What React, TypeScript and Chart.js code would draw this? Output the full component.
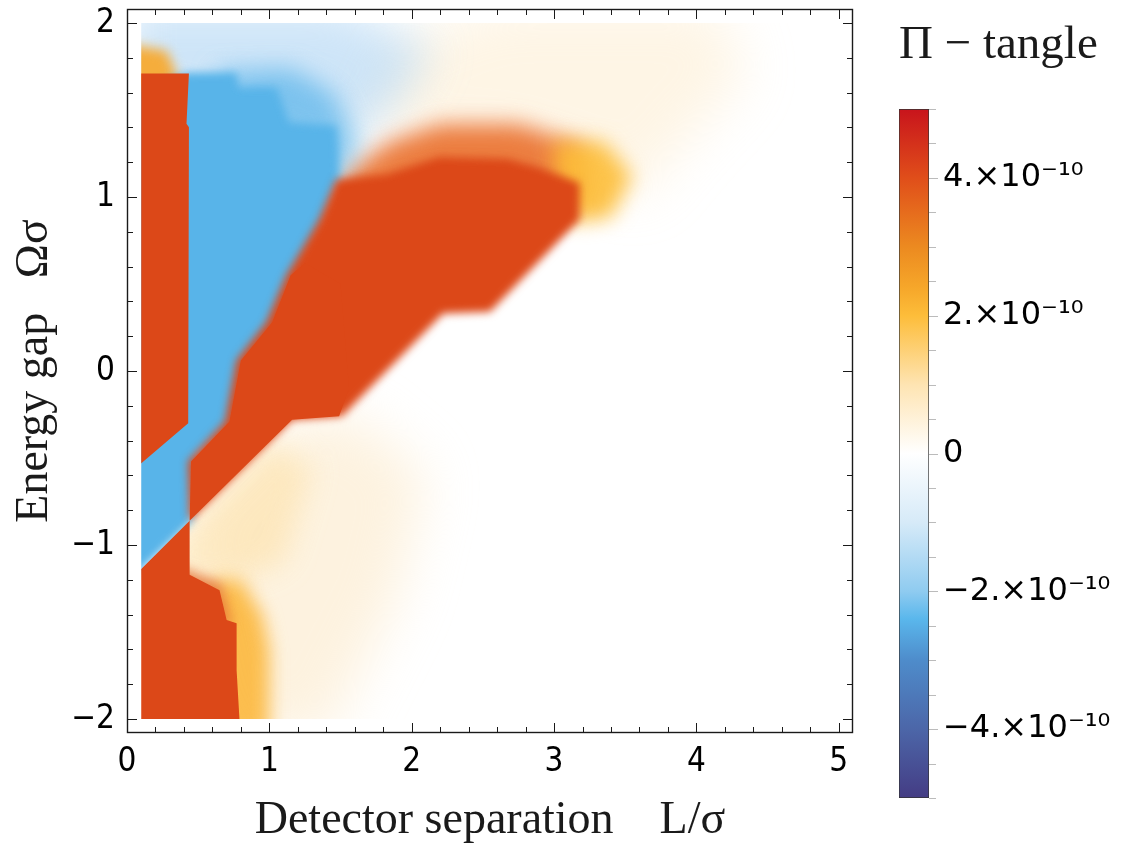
import React, { useEffect, useRef } from 'react';
import { Chart, registerables } from 'chart.js';

// ---------------- axes / ticks ----------------
const xTickValues = [0, 1, 2, 3, 4, 5];
const yTickValues = [-2, -1, 0, 1, 2];
const xAxisRange = [0, 5.1];
const yAxisRange = [-2.08, 2.08];
const minorStep = 0.2;
const dataDomainX = [0.1, 5.0];
const dataDomainY = [-2, 2];

const xTitle = 'Detector separation\u2003L/σ';
const yTitle = 'Energy gap\u2002 Ωσ';
const cbTitle = 'Π − tangle';

// ---------------- colour bar ----------------
const cbRange = [-5e-10, 5e-10];
const cbTickValues = [-4e-10, -2e-10, 0, 2e-10, 4e-10];
const cbMinorStep = 0.5e-10;
const cbStopValues = [-5e-10, -4e-10, -3e-10, -2.4e-10, -2e-10, -1e-10, 0, 1e-10, 2e-10, 2.4e-10, 3e-10, 4e-10, 5e-10];
const cbStopColors = ['#443c84', '#4c66a8', '#4e8ccb', '#5ab7ec', '#8fcbf0', '#d6eaf8', '#ffffff', '#fee4b2', '#fdbd3a', '#f6a72a', '#ec8a20', '#e04e1a', '#c8141c'];

// ---------------- regions (L/σ, Ωσ) ----------------
const hazeCreamX = [1.65, 1.95, 2.6, 4.15, 4.35, 3.9, 3.6, 3.2, 2.6, 2.1];
const hazeCreamY = [1.45, 1.9, 2.1, 2.1, 1.7, 1.3, 1.0, 1.15, 1.3, 1.3];

const hazeBlueTopX = [0.0, 1.5, 2.15, 1.9, 1.55, 0.0];
const hazeBlueTopY = [2.1, 2.1, 1.85, 1.55, 1.3, 1.6];

const hazeLowerX = [0.44, 1.15, 1.6, 2.1, 1.9, 1.4, 0.79];
const hazeLowerY = [-0.86, -0.28, -0.26, -0.6, -1.3, -2.1, -2.1];

const glowDiagX = [0.3, 0.44, 1.0, 1.3, 1.1, 0.6, 0.3];
const glowDiagY = [-1.0, -0.86, -0.4, -0.55, -1.1, -1.25, -1.2];

const glowLowerX = [0.6, 0.8, 0.95, 1.0, 1.0, 0.6];
const glowLowerY = [-1.2, -1.2, -1.4, -1.6, -2.1, -2.1];

const glowLowerPeachX = [0.3, 0.66, 0.74, 0.5, 0.3];
const glowLowerPeachY = [-1.1, -1.22, -1.47, -1.4, -1.3];

const glowTopLeftX = [0.0, 0.4, 0.28, 0.0];
const glowTopLeftY = [1.6, 1.6, 1.84, 1.88];

const glowRedTopX = [1.5, 1.85, 2.2, 2.75, 3.2, 3.25, 3.05, 2.67, 2.19, 1.82, 1.5];
const glowRedTopY = [1.12, 1.32, 1.42, 1.42, 1.3, 0.95, 1.0, 1.07, 1.08, 0.98, 0.95];

const glowRedTipX = [3.0, 3.35, 3.55, 3.4, 3.1, 3.0];
const glowRedTipY = [1.32, 1.32, 1.12, 0.88, 0.85, 1.1];

const blueFadeX = [0.6, 1.15, 1.45, 1.62, 1.5, 1.0];
const blueFadeY = [1.72, 1.74, 1.6, 1.3, 1.1, 1.3];

const blueMainX = [0.0, 0.0, 0.43, 0.77, 0.79, 1.05, 1.14, 1.47, 1.5, 1.4, 1.25, 1.17, 1.05, 0.85, 0.76, 0.5, 0.46];
const blueMainY = [-1.22, 1.6, 1.715, 1.715, 1.63, 1.63, 1.43, 1.41, 1.1, 0.85, 0.62, 0.5, 0.25, 0.05, -0.3, -0.5, -0.86];

const redLowerLeftX = [-0.05, 0.44, 0.44, 0.65, 0.7, 0.77, 0.77, 0.79, 0.79, -0.05];
const redLowerLeftY = [-1.26, -0.86, -1.17, -1.26, -1.43, -1.45, -1.72, -2.0, -2.15, -2.15];

const redStripX = [-0.05, 0.435, 0.418, 0.435, 0.43, -0.05];
const redStripY = [1.71, 1.71, 1.42, 1.4, -0.3, -0.635];

const redBandX = [0.44, 1.16, 1.51, 2.22, 2.55, 3.18, 3.18, 2.9, 2.67, 2.19, 1.82, 1.47, 1.35, 1.2, 1.12, 0.98, 0.77, 0.69, 0.43];
const redBandY = [-0.86, -0.28, -0.26, 0.33, 0.34, 0.87, 1.08, 1.17, 1.22, 1.23, 1.13, 1.1, 0.87, 0.66, 0.55, 0.28, 0.06, -0.29, -0.52];

const redBandCoreX = [0.44, 1.16, 1.49, 1.56, 1.5, 1.25, 1.15, 1.02, 0.8, 0.72, 0.45];
const redBandCoreY = [-0.86, -0.28, -0.26, -0.1, 0.5, 0.62, 0.55, 0.28, 0.06, -0.29, -0.52];

const RED = '#dc4818';
const BLUE = '#58b4e9';

// bottom -> top
const layers = [
  { name: 'haze cream', xs: hazeCreamX, ys: hazeCreamY, color: 'rgba(252,226,180,0.35)', blur: 26 },
  { name: 'haze blue top', xs: hazeBlueTopX, ys: hazeBlueTopY, color: 'rgba(165,208,242,0.55)', blur: 22 },
  { name: 'haze lower', xs: hazeLowerX, ys: hazeLowerY, color: 'rgba(252,232,196,0.55)', blur: 26 },
  { name: 'glow diagonal', xs: glowDiagX, ys: glowDiagY, color: 'rgba(253,220,150,0.45)', blur: 14 },
  { name: 'glow lower', xs: glowLowerX, ys: glowLowerY, color: 'rgba(252,180,50,0.85)', blur: 9 },
  { name: 'glow lower peach', xs: glowLowerPeachX, ys: glowLowerPeachY, color: 'rgba(228,110,45,0.8)', blur: 6 },
  { name: 'glow top left', xs: glowTopLeftX, ys: glowTopLeftY, color: '#f5ad3c', blur: 6 },
  { name: 'glow red top', xs: glowRedTopX, ys: glowRedTopY, color: 'rgba(234,112,44,0.9)', blur: 11 },
  { name: 'glow red tip', xs: glowRedTipX, ys: glowRedTipY, color: 'rgba(253,190,55,0.9)', blur: 10 },
  { name: 'blue fade', xs: blueFadeX, ys: blueFadeY, color: 'rgba(88,180,233,0.7)', blur: 12 },
  { name: 'blue', xs: blueMainX, ys: blueMainY, color: BLUE, blur: 4 },
  { name: 'red lower left', xs: redLowerLeftX, ys: redLowerLeftY, color: RED, blur: 0 },
  { name: 'red strip', xs: redStripX, ys: redStripY, color: RED, blur: 0 },
  { name: 'red band', xs: redBandX, ys: redBandY, color: RED, blur: 4 },
  { name: 'red band core', xs: redBandCoreX, ys: redBandCoreY, color: RED, blur: 0 },
];

const TICK_FONT = "'Liberation Sans Narrow', 'DejaVu Sans Condensed', Roboto, sans-serif";
const CB_FONT = "'DejaVu Sans', sans-serif";
const SERIF = "'Liberation Serif', 'DejaVu Serif', serif";

// clip + blur each layer (registered before the filler so it wraps the fill)
const layerBlur = {
  id: 'layerBlur',
  beforeDatasetDraw(chart: any, args: any) {
    const ds: any = chart.data.datasets[args.index];
    if (ds.blurPx === undefined) return;
    const { ctx, scales } = chart;
    const l = scales.x.getPixelForValue(dataDomainX[0]);
    const r = scales.x.getPixelForValue(dataDomainX[1]);
    const t = scales.y.getPixelForValue(dataDomainY[1]);
    const b = scales.y.getPixelForValue(dataDomainY[0]);
    ctx.save();
    ctx.beginPath();
    ctx.rect(l, t, r - l, b - t);
    ctx.clip();
    if (ds.blurPx > 0) ctx.filter = `blur(${ds.blurPx}px)`;
  },
  afterDatasetDraw(chart: any, args: any) {
    const ds: any = chart.data.datasets[args.index];
    if (ds.blurPx === undefined) return;
    chart.ctx.filter = 'none';
    chart.ctx.restore();
  },
};

Chart.register(layerBlur as any, ...registerables);

const fmtNum = (v: number) => (v < 0 ? '−' + Math.abs(v) : String(v));
const fmtCb = (v: number) => {
  const n = Math.round(v / 1e-10);
  if (n === 0) return '0';
  return (n < 0 ? '−' : '') + Math.abs(n) + '.×10⁻¹⁰';
};

const frameTicks = {
  id: 'frameTicks',
  afterDatasetsDraw(chart: any) {
    const { ctx, chartArea: a, scales } = chart;
    const xs = scales.x, ys = scales.y;
    ctx.save();
    ctx.strokeStyle = '#1a1a1a';
    ctx.lineWidth = 1;
    const line = (x1: number, y1: number, x2: number, y2: number) => {
      ctx.beginPath(); ctx.moveTo(x1, y1); ctx.lineTo(x2, y2); ctx.stroke();
    };
    const MAJ = 10, MIN = 6;
    for (let k = Math.ceil(xAxisRange[0] / minorStep - 1e-9); k * minorStep <= xAxisRange[1] + 1e-9; k++) {
      const v = k * minorStep;
      const isMaj = xTickValues.some((t) => Math.abs(t - v) < 1e-6);
      const p = Math.round(xs.getPixelForValue(v)) + 0.5;
      const len = isMaj ? MAJ : MIN;
      line(p, a.bottom, p, a.bottom - len);
      line(p, a.top, p, a.top + len);
    }
    for (let k = Math.ceil(yAxisRange[0] / minorStep - 1e-9); k * minorStep <= yAxisRange[1] + 1e-9; k++) {
      const v = k * minorStep;
      const isMaj = yTickValues.some((t) => Math.abs(t - v) < 1e-6);
      const p = Math.round(ys.getPixelForValue(v)) + 0.5;
      const len = isMaj ? MAJ : MIN;
      line(a.left, p, a.left + len, p);
      line(a.right, p, a.right - len, p);
    }
    ctx.lineWidth = 1.4;
    ctx.strokeRect(a.left + 0.5, a.top + 0.5, a.right - a.left - 1, a.bottom - a.top - 1);
    ctx.restore();
  },
};

const cbTicks = {
  id: 'cbTicks',
  afterDatasetsDraw(chart: any) {
    const { ctx, chartArea: a, scales } = chart;
    const ys = scales.y;
    ctx.save();
    ctx.strokeStyle = '#bbbbbb';
    ctx.lineWidth = 1;
    const n = Math.round((cbRange[1] - cbRange[0]) / cbMinorStep);
    for (let k = 0; k <= n; k++) {
      const v = cbRange[0] + k * cbMinorStep;
      const isMaj = cbTickValues.some((t) => Math.abs(t - v) < 1e-14);
      const p = Math.round(ys.getPixelForValue(v)) + 0.5;
      ctx.beginPath();
      ctx.moveTo(a.right, p);
      ctx.lineTo(a.right + (isMaj ? 9 : 7), p);
      ctx.stroke();
    }
    ctx.restore();
  },
};

export default function App() {
  const mainRef = useRef<HTMLCanvasElement>(null);
  const cbRef = useRef<HTMLCanvasElement>(null);

  useEffect(() => {
    const datasets = layers
      .slice()
      .reverse()
      .map((l) => ({
        label: l.name,
        data: l.xs.map((x, i) => ({ x, y: l.ys[i] })),
        showLine: true,
        fill: 'shape',
        backgroundColor: l.color,
        borderColor: 'rgba(0,0,0,0)',
        borderWidth: 0,
        pointRadius: 0,
        pointHoverRadius: 0,
        tension: 0,
        blurPx: l.blur,
      }));

    const main = new Chart(mainRef.current as HTMLCanvasElement, {
      type: 'scatter',
      data: { datasets: datasets as any },
      options: {
        responsive: false,
        animation: false,
        events: [],
        layout: { padding: { top: 9, right: 27, left: 0, bottom: 0 } },
        plugins: { legend: { display: false }, tooltip: { enabled: false }, title: { display: false } },
        scales: {
          x: {
            type: 'linear',
            min: xAxisRange[0],
            max: xAxisRange[1],
            grid: { display: false, drawTicks: false },
            border: { display: false },
            afterBuildTicks: (s: any) => { s.ticks = xTickValues.map((v) => ({ value: v })); },
            afterFit: (s: any) => { s.height = 113; s.paddingLeft = 0; s.paddingRight = 0; },
            ticks: {
              padding: 10,
              color: '#000',
              font: { family: TICK_FONT, size: 33 },
              maxRotation: 0,
              autoSkip: false,
              callback: (v: any) => fmtNum(Number(v)),
            },
            title: {
              display: true,
              text: xTitle,
              color: '#1a1a1a',
              font: { family: SERIF, size: 46, lineHeight: 1 },
              padding: { top: 0, bottom: 2 },
            },
          },
          y: {
            type: 'linear',
            min: yAxisRange[0],
            max: yAxisRange[1],
            grid: { display: false, drawTicks: false },
            border: { display: false },
            afterBuildTicks: (s: any) => { s.ticks = yTickValues.map((v) => ({ value: v })); },
            afterFit: (s: any) => { s.width = 127; s.paddingTop = 0; s.paddingBottom = 0; },
            ticks: {
              padding: 12,
              color: '#000',
              font: { family: TICK_FONT, size: 33 },
              autoSkip: false,
              callback: (v: any) => fmtNum(Number(v)),
            },
            title: {
              display: true,
              text: yTitle,
              color: '#1a1a1a',
              font: { family: SERIF, size: 46, lineHeight: 1 },
              padding: { top: 12, bottom: 0 },
            },
          },
        },
      },
      plugins: [frameTicks],
    } as any);

    const cb = new Chart(cbRef.current as HTMLCanvasElement, {
      type: 'bar',
      data: {
        labels: ['Π − tangle'],
        datasets: [
          {
            data: [[cbRange[0], cbRange[1]]],
            backgroundColor: (c: any) => {
              const chart = c.chart;
              const ys = chart.scales && chart.scales.y;
              if (!chart.chartArea || !ys) return 'rgba(0,0,0,0)';
              const top = ys.getPixelForValue(cbRange[1]);
              const bottom = ys.getPixelForValue(cbRange[0]);
              const g = chart.ctx.createLinearGradient(0, bottom, 0, top);
              cbStopValues.forEach((v, i) => g.addColorStop((v - cbRange[0]) / (cbRange[1] - cbRange[0]), cbStopColors[i]));
              return g;
            },
            borderColor: '#333',
            borderWidth: 1,
            borderSkipped: false,
            barPercentage: 1,
            categoryPercentage: 1,
          } as any,
        ],
      },
      options: {
        responsive: false,
        animation: false,
        events: [],
        layout: { padding: { top: 0, left: 39, right: 0, bottom: 48 } },
        plugins: {
          legend: { display: false },
          tooltip: { enabled: false },
          title: {
            display: true,
            text: cbTitle,
            align: 'start',
            color: '#1a1a1a',
            font: { family: SERIF, size: 47, lineHeight: 1, weight: 'normal' },
            padding: { top: 22, bottom: 40 },
          },
        },
        scales: {
          x: { type: 'category', display: false },
          y: {
            type: 'linear',
            position: 'right',
            min: cbRange[0],
            max: cbRange[1],
            grid: { display: false, drawTicks: false },
            border: { display: false },
            afterBuildTicks: (s: any) => { s.ticks = cbTickValues.map((v) => ({ value: v })); },
            afterFit: (s: any) => { s.width = 193; s.paddingTop = 0; s.paddingBottom = 0; },
            ticks: {
              padding: 14,
              color: '#000',
              font: { family: CB_FONT, size: 32 },
              autoSkip: false,
              callback: (v: any) => fmtCb(Number(v)),
            },
          },
        },
      },
      plugins: [cbTicks],
    } as any);

    return () => {
      main.destroy();
      cb.destroy();
    };
  }, []);

  return (
    <div style={{ position: 'fixed', left: 0, top: 0, width: 1122, height: 846, background: '#fff', overflow: 'hidden' }}>
      <canvas ref={mainRef} width={880} height={846} style={{ position: 'absolute', left: 0, top: 0, width: 880, height: 846 }} />
      <canvas ref={cbRef} width={262} height={846} style={{ position: 'absolute', left: 860, top: 0, width: 262, height: 846 }} />
    </div>
  );
}
